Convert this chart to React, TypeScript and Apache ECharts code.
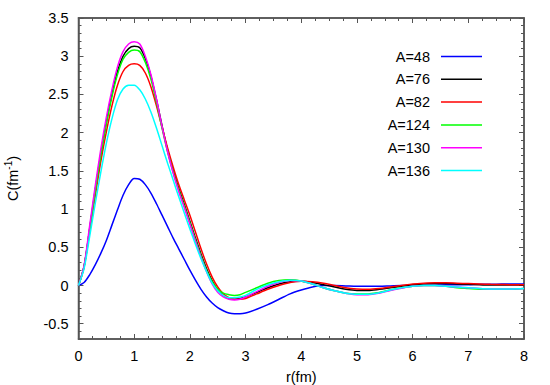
import React, { useEffect, useRef } from "react";
import * as echarts from "echarts";

const rValues = [
  0, 0.1, 0.2, 0.3, 0.4, 0.5, 0.6, 0.7, 0.8, 0.9, 1.0, 1.1, 1.2, 1.3, 1.4, 1.5, 1.6, 1.7, 1.8, 1.9,
  2.0, 2.1, 2.2, 2.3, 2.4, 2.5, 2.6, 2.7, 2.8, 2.9, 3.0, 3.2, 3.4, 3.6, 3.8, 4.0, 4.2, 4.4, 4.6, 4.8,
  5.0, 5.2, 5.4, 5.6, 5.8, 6.0, 6.2, 6.4, 6.6, 6.8, 7.0, 7.2, 7.4, 7.6, 7.8, 8.0,
];

const a48 = [
  0, 0.04, 0.14, 0.27, 0.42, 0.59, 0.79, 0.99, 1.18, 1.32, 1.4, 1.39, 1.32, 1.21, 1.07, 0.92, 0.77, 0.62, 0.48, 0.34,
  0.2, 0.07, -0.05, -0.15, -0.23, -0.29, -0.33, -0.36, -0.37, -0.37, -0.36, -0.31, -0.25, -0.18, -0.11, -0.06, -0.02, 0.0, 0.0, -0.005,
  -0.01, -0.01, -0.01, -0.005, 0.0, 0.0, 0.005, 0.005, 0.01, 0.01, 0.01, 0.015, 0.015, 0.02, 0.02, 0.02,
];
const a76 = [
  0, 0.25, 0.74, 1.25, 1.72, 2.14, 2.5, 2.8, 3.0, 3.1, 3.13, 3.11, 2.97, 2.74, 2.43, 2.09, 1.77, 1.5, 1.27, 1.06,
  0.84, 0.62, 0.41, 0.22, 0.06, -0.06, -0.13, -0.17, -0.18, -0.17, -0.15, -0.09, -0.03, 0.02, 0.05, 0.055, 0.04, 0.01, -0.02, -0.05,
  -0.065, -0.065, -0.05, -0.03, -0.01, 0.01, 0.02, 0.025, 0.025, 0.02, 0.015, 0.01, 0.005, 0.005, 0.005, 0.005,
];
const a82 = [
  0, 0.24, 0.7, 1.17, 1.62, 2.01, 2.35, 2.62, 2.8, 2.88, 2.9, 2.88, 2.78, 2.6, 2.35, 2.07, 1.8, 1.55, 1.32, 1.12,
  0.92, 0.7, 0.48, 0.28, 0.11, -0.02, -0.11, -0.16, -0.18, -0.18, -0.17, -0.11, -0.05, 0.0, 0.04, 0.055, 0.05, 0.03, 0.0, -0.03,
  -0.045, -0.05, -0.04, -0.02, 0.0, 0.02, 0.03, 0.035, 0.035, 0.03, 0.025, 0.02, 0.015, 0.012, 0.01, 0.01,
];
const a124 = [
  0, 0.25, 0.73, 1.23, 1.7, 2.11, 2.47, 2.76, 2.96, 3.05, 3.08, 3.06, 2.92, 2.7, 2.4, 2.06, 1.75, 1.48, 1.25, 1.04,
  0.82, 0.6, 0.39, 0.2, 0.05, -0.05, -0.1, -0.12, -0.13, -0.12, -0.09, -0.03, 0.03, 0.065, 0.075, 0.06, 0.02, -0.03, -0.07, -0.1,
  -0.11, -0.11, -0.09, -0.06, -0.03, -0.01, 0.0, 0.0, -0.01, -0.03, -0.04, -0.05, -0.05, -0.05, -0.05, -0.04,
];
const a130 = [
  0, 0.26, 0.78, 1.3, 1.78, 2.2, 2.56, 2.86, 3.06, 3.16, 3.19, 3.16, 3.0, 2.76, 2.44, 2.08, 1.75, 1.47, 1.23, 1.02,
  0.8, 0.58, 0.37, 0.18, 0.02, -0.09, -0.15, -0.18, -0.19, -0.18, -0.15, -0.08, -0.01, 0.04, 0.065, 0.06, 0.02, -0.03, -0.07, -0.1,
  -0.12, -0.12, -0.1, -0.065, -0.035, -0.01, 0.0, 0.0, -0.01, -0.02, -0.03, -0.04, -0.045, -0.045, -0.045, -0.04,
];
const a136 = [
  0, 0.22, 0.64, 1.07, 1.48, 1.86, 2.18, 2.43, 2.57, 2.62, 2.62, 2.56, 2.44, 2.27, 2.06, 1.83, 1.6, 1.38, 1.16, 0.95,
  0.74, 0.54, 0.35, 0.18, 0.03, -0.07, -0.13, -0.16, -0.16, -0.15, -0.13, -0.05, 0.01, 0.05, 0.07, 0.06, 0.02, -0.03, -0.07, -0.1,
  -0.115, -0.115, -0.095, -0.06, -0.03, -0.01, 0.0, 0.0, -0.01, -0.02, -0.03, -0.04, -0.045, -0.045, -0.045, -0.04,
];

const seriesNames = ["A=48", "A=76", "A=82", "A=124", "A=130", "A=136"];
const seriesColors = ["#0000ff", "#000000", "#ff0000", "#00ff00", "#ff00ff", "#00ffff"];
const seriesValues = [a48, a76, a82, a124, a130, a136];

const xTicks = [0, 1, 2, 3, 4, 5, 6, 7, 8];
const yTicks = [-0.5, 0, 0.5, 1, 1.5, 2, 2.5, 3, 3.5];

const FONT = "'Liberation Sans', Arial, Helvetica, sans-serif";
const FS = 14.5;
const AXIS_COLOR = "#555555";

export default function App() {
  const ref = useRef<HTMLDivElement>(null);

  useEffect(() => {
    if (!ref.current) return;
    const chart = echarts.init(ref.current, undefined, { renderer: "svg" });

    const xCommon = {
      type: "value",
      min: 0,
      max: 8,
      interval: 1,
      axisLine: { show: true, onZero: false, lineStyle: { color: AXIS_COLOR, width: 1.5 } },
      axisTick: { show: true, inside: true, length: 5, lineStyle: { color: AXIS_COLOR, width: 1 } },
      minorTick: { show: true, splitNumber: 4, length: 3, lineStyle: { color: AXIS_COLOR, width: 1 } },
      splitLine: { show: false },
      minorSplitLine: { show: false },
    };

    const yMajor = () => ({
      type: "value",
      min: -0.7,
      max: 3.5,
      axisLine: { show: true, onZero: false, lineStyle: { color: AXIS_COLOR, width: 1.5 } },
      axisTick: {
        show: true,
        inside: true,
        length: 5,
        customValues: yTicks,
        lineStyle: { color: AXIS_COLOR, width: 1 },
      },
      splitLine: { show: false },
    });

    const yMinor = () => ({
      type: "value",
      min: -0.7,
      max: 3.5,
      interval: 0.1,
      axisLine: { show: false, onZero: false },
      axisTick: { show: true, inside: true, length: 3, lineStyle: { color: AXIS_COLOR, width: 1 } },
      axisLabel: { show: false },
      splitLine: { show: false },
    });

    const legendRowY = [56.5, 79.3, 102.1, 124.9, 147.7, 170.5];
    const graphics: any[] = [];
    seriesNames.forEach((n, i) => {
      graphics.push({
        type: "text",
        x: 430,
        y: legendRowY[i],
        style: {
          text: n,
          fill: "#000",
          font: `${FS}px ${FONT}`,
          textAlign: "right",
          textVerticalAlign: "middle",
        },
      });
      graphics.push({
        type: "line",
        shape: { x1: 441, y1: legendRowY[i], x2: 482, y2: legendRowY[i] },
        style: { stroke: seriesColors[i], lineWidth: 1.5 },
      });
    });

    const dummy = (xi: number, yi: number) => ({
      type: "line",
      xAxisIndex: xi,
      yAxisIndex: yi,
      data: [],
      silent: true,
      showSymbol: false,
    });

    chart.setOption({
      animation: false,
      backgroundColor: "#ffffff",
      grid: {
        left: 78.5,
        top: 18,
        right: 26,
        bottom: 46,
        containLabel: false,
        outerBoundsMode: "none",
        show: true,
        borderColor: AXIS_COLOR,
        borderWidth: 1.5,
        backgroundColor: "transparent",
      },
      xAxis: [
        {
          ...xCommon,
          position: "bottom",
          name: "r(fm)",
          nameLocation: "middle",
          nameGap: 30,
          nameTextStyle: { fontFamily: FONT, fontSize: FS, color: "#000" },
          axisLabel: {
            show: true,
            margin: 9,
            fontFamily: FONT,
            fontSize: FS,
            color: "#000",
            formatter: (v: number) => (xTicks.includes(v) ? String(v) : ""),
          },
        },
        {
          ...xCommon,
          position: "top",
          axisLabel: { show: false },
        },
      ],
      yAxis: [
        {
          ...yMajor(),
          position: "left",
          name: "{a|C(fm}{b|-1}{a|)}",
          nameLocation: "middle",
          nameGap: 57,
          nameRotate: 90,
          nameTextStyle: {
            fontFamily: FONT,
            fontSize: FS,
            color: "#000",
            rich: {
              a: { fontFamily: FONT, fontSize: FS, color: "#000", lineHeight: 18 },
              b: { fontFamily: FONT, fontSize: 10, color: "#000", verticalAlign: "top", lineHeight: 18 },
            },
          },
          axisLabel: {
            show: true,
            customValues: yTicks,
            margin: 10,
            fontFamily: FONT,
            fontSize: FS,
            color: "#000",
            formatter: (v: number) => String(Math.round(v * 10) / 10),
          },
        },
        { ...yMajor(), position: "right", axisLabel: { show: false } },
        { ...yMinor(), position: "left" },
        { ...yMinor(), position: "right" },
      ],
      graphic: graphics,
      series: [
        ...seriesNames.map((n, i) => ({
          name: n,
          type: "line",
          xAxisIndex: 0,
          yAxisIndex: 0,
          data: rValues.map((r, k) => [r, seriesValues[i][k]]),
          smooth: 0.3,
          showSymbol: false,
          symbol: "none",
          lineStyle: { color: seriesColors[i], width: 1.5 },
          itemStyle: { color: seriesColors[i] },
        })),
        dummy(1, 1),
        dummy(1, 2),
        dummy(1, 3),
      ],
    });

    return () => {
      chart.dispose();
    };
  }, []);

  return <div ref={ref} style={{ width: 550, height: 385, position: "absolute", left: 0, top: 0 }} />;
}
